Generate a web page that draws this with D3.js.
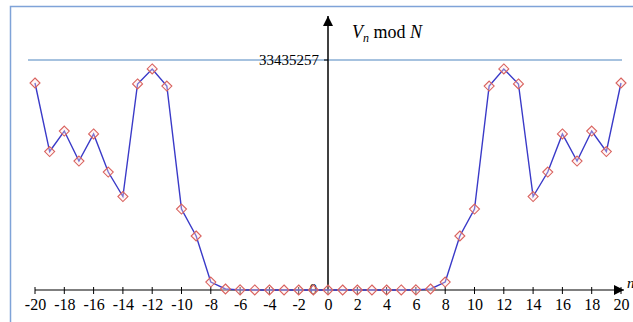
<!DOCTYPE html>
<html>
<head>
<meta charset="utf-8">
<script src="https://cdn.jsdelivr.net/npm/d3@7"></script>
<style>
	body{margin:0;background:#fff;}
	svg text{font-family:"Liberation Serif","DejaVu Serif","Times New Roman",serif !important;}
</style>
</head>
<body>
<svg id="chart" width="633" height="322"></svg>
<script>
// n values and V_n mod N
var nVals = d3.range(-20, 21);
var vVals = [
	30090000, 20130000, 23110000, 18750000, 22680000, 17150000, 13590000, 29950000, 32130000, 29650000,
	11770000, 7850000, 1160000, 145000, 20000, 4000, 1000, 200, 50, 10,
	2,
	10, 50, 200, 1000, 4000, 20000, 145000, 1160000, 7850000, 11770000,
	29650000, 32130000, 29950000, 13590000, 17150000, 22680000, 18750000, 23110000, 20130000, 30090000
];
var N_MOD = 33435257;
var xTicks = d3.range(-20, 21, 2);

var svg = d3.select("#chart");

var x = d3.scaleLinear().domain([-20, 20]).range([35, 621]);
var y = d3.scaleLinear().domain([0, N_MOD]).range([290, 60]);

// frame
svg.append("rect")
	.attr("x", 10.5).attr("y", 6.5).attr("width", 640).attr("height", 330)
	.attr("fill", "none").attr("stroke", "#7fa3d8").attr("stroke-width", 1.5);

svg.append("defs").append("marker")
	.attr("id", "arr").attr("viewBox", "0 0 10 10").attr("refX", 10).attr("refY", 5)
	.attr("markerWidth", 10).attr("markerHeight", 10).attr("markerUnits", "userSpaceOnUse")
	.attr("orient", "auto")
	.append("path").attr("d", "M0,0 L10,5 L0,10 Z").attr("fill", "#000");

// N line
svg.append("line")
	.attr("x1", 28).attr("x2", 622).attr("y1", y(N_MOD)).attr("y2", y(N_MOD))
	.attr("stroke", "#4f86c0").attr("stroke-width", 1.2);

// x axis
var xAxis = d3.axisBottom(x).tickValues(xTicks).tickSize(0).tickFormat(d3.format("d"));
var gx = svg.append("g").attr("transform", "translate(0," + y(0) + ")").call(xAxis)
	.attr("font-family", null);
gx.select(".domain").remove();
gx.selectAll("text").attr("dy", "1.05em").attr("font-size", "16px").attr("fill", "#000")
	.text(function(d){return d < 0 ? "-" + (-d) : d;});
svg.append("g").selectAll("line").data(xTicks).join("line")
	.attr("x1", function(d){return x(d);}).attr("x2", function(d){return x(d);})
	.attr("y1", y(0) - 3).attr("y2", y(0) + 4)
	.attr("stroke", "#000").attr("stroke-width", 1);
svg.append("line")
	.attr("x1", x(-20)).attr("x2", 624).attr("y1", y(0)).attr("y2", y(0))
	.attr("stroke", "#000").attr("stroke-width", 1.2).attr("marker-end", "url(#arr)");
svg.append("text").attr("x", 627).attr("y", y(0) - 2).attr("font-size", "15px")
	.attr("font-style", "italic").text("n");

// y axis
svg.append("line")
	.attr("x1", x(0)).attr("x2", x(0)).attr("y1", y(0)).attr("y2", 16)
	.attr("stroke", "#000").attr("stroke-width", 1.5).attr("marker-end", "url(#arr)");
svg.append("line")
	.attr("x1", x(0) - 4).attr("x2", x(0)).attr("y1", y(N_MOD)).attr("y2", y(N_MOD))
	.attr("stroke", "#000");
svg.append("text").attr("x", x(0) - 9).attr("y", y(N_MOD) + 5).attr("text-anchor", "end")
	.attr("font-size", "15px").text(N_MOD);
svg.append("text").attr("x", x(0) - 11).attr("y", y(0) + 4).attr("text-anchor", "end")
	.attr("font-size", "15px").text("0");

var title = svg.append("text").attr("x", 352).attr("y", 38).attr("font-size", "18px");
title.append("tspan").attr("font-style", "italic").text("V");
title.append("tspan").attr("font-style", "italic").attr("font-size", "12px").attr("dy", 4).text("n");
title.append("tspan").attr("dy", -4).text(" mod ");
title.append("tspan").attr("font-style", "italic").text("N");

// series
var pts = nVals.map(function(n, i){return {n:n, v:vVals[i]};});
svg.append("path").datum(pts)
	.attr("fill", "none").attr("stroke", "#3a3ac8").attr("stroke-width", 1.4)
	.attr("d", d3.line().x(function(d){return x(d.n);}).y(function(d){return y(d.v);}));
svg.append("g").selectAll("path").data(pts).join("path")
	.attr("transform", function(d){return "translate(" + x(d.n) + "," + y(d.v) + ")";})
	.attr("d", "M0,-5 L5,0 L0,5 L-5,0 Z")
	.attr("fill", "rgba(255,230,230,0.35)").attr("stroke", "#d9625e").attr("stroke-width", 1.1);
</script>
</body>
</html>
